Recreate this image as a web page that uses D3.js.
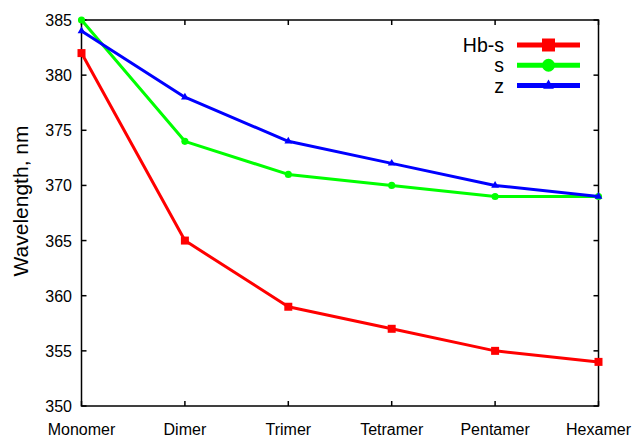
<!DOCTYPE html>
<html>
<head>
<meta charset="utf-8">
<script src="https://cdn.jsdelivr.net/npm/d3@7"></script>
<style>
  html, body { margin: 0; padding: 0; background: #fff; }
  svg { display: block; font-family: "Liberation Sans", Arial, sans-serif; }
</style>
</head>
<body>
<svg id="chart" width="635" height="437"></svg>
<script>
// Oligomer sizes along the x axis
const categories = ["Monomer", "Dimer", "Trimer", "Tetramer", "Pentamer", "Hexamer"];

// Absorption wavelength (nm) for each model
const hbs = [382, 365, 359, 357, 355, 354];
const sVals = [385, 374, 371, 370, 369, 369];
const zVals = [384, 378, 374, 372, 370, 369];

const seriesNames = ["Hb-s", "s", "z"];
const yTicks = [350, 355, 360, 365, 370, 375, 380, 385];

const series = [
  { name: seriesNames[0], values: hbs, color: "#ff0000", symbol: d3.symbolSquare },
  { name: seriesNames[1], values: sVals, color: "#00ff00", symbol: d3.symbolCircle },
  { name: seriesNames[2], values: zVals, color: "#0000ff", symbol: d3.symbolTriangle }
];

const svg = d3.select("#chart");
const plotLeft = 81.5, plotRight = 598.5, plotTop = 20, plotBottom = 406;

const x = d3.scalePoint().domain(categories).range([plotLeft, plotRight]);
const y = d3.scaleLinear().domain([350, 385]).range([plotBottom, plotTop]);

// Frame and inward ticks on all four sides
const axes = svg.append("g").attr("stroke", "#000").attr("stroke-width", 1.5);
axes.append("rect")
  .attr("x", plotLeft).attr("y", plotTop)
  .attr("width", plotRight - plotLeft).attr("height", plotBottom - plotTop)
  .attr("fill", "none");

const tickLen = 5;
yTicks.forEach(t => {
  axes.append("line").attr("x1", plotLeft).attr("x2", plotLeft + tickLen).attr("y1", y(t)).attr("y2", y(t));
  axes.append("line").attr("x1", plotRight).attr("x2", plotRight - tickLen).attr("y1", y(t)).attr("y2", y(t));
});
categories.forEach(c => {
  axes.append("line").attr("x1", x(c)).attr("x2", x(c)).attr("y1", plotBottom).attr("y2", plotBottom - tickLen);
  axes.append("line").attr("x1", x(c)).attr("x2", x(c)).attr("y1", plotTop).attr("y2", plotTop + tickLen);
});

// Tick labels
svg.append("g").selectAll("text").data(yTicks).join("text")
  .attr("x", 72).attr("y", d => y(d) + 6)
  .attr("text-anchor", "end").attr("font-size", 16).attr("fill", "#000")
  .text(d => d);

svg.append("g").selectAll("text").data(categories).join("text")
  .attr("x", d => x(d)).attr("y", 435)
  .attr("text-anchor", "middle").attr("font-size", 16).attr("fill", "#000")
  .text(d => d);

// Y axis title
svg.append("text")
  .attr("transform", "translate(28,201) rotate(-90)")
  .attr("text-anchor", "middle").attr("font-size", 21).attr("fill", "#000")
  .text("Wavelength, nm");

// Lines and markers
const line = d3.line().x((d, i) => x(categories[i])).y(d => y(d));
const markerSize = { [seriesNames[0]]: 64, [seriesNames[1]]: 40, [seriesNames[2]]: 26 };

series.forEach(s => {
  svg.append("path")
    .attr("d", line(s.values))
    .attr("fill", "none").attr("stroke", s.color).attr("stroke-width", 3)
    .attr("stroke-linejoin", "round");
  svg.append("g").selectAll("path").data(s.values).join("path")
    .attr("transform", (d, i) => `translate(${x(categories[i])},${y(d)})`)
    .attr("d", d3.symbol().type(s.symbol).size(markerSize[s.name]))
    .attr("fill", s.color);
});

// Legend
const legendSize = { [seriesNames[0]]: 169, [seriesNames[1]]: 130, [seriesNames[2]]: 50 };
series.forEach((s, i) => {
  const ly = 45 + i * 20.3;
  svg.append("text")
    .attr("x", 504).attr("y", ly + 7)
    .attr("text-anchor", "end").attr("font-size", 19.5).attr("fill", "#000")
    .text(s.name);
  svg.append("line")
    .attr("x1", 517).attr("x2", 580).attr("y1", ly).attr("y2", ly)
    .attr("stroke", s.color).attr("stroke-width", 5);
  svg.append("path")
    .attr("transform", `translate(548.5,${ly})`)
    .attr("d", d3.symbol().type(s.symbol).size(legendSize[s.name]))
    .attr("fill", s.color);
});
</script>
</body>
</html>
